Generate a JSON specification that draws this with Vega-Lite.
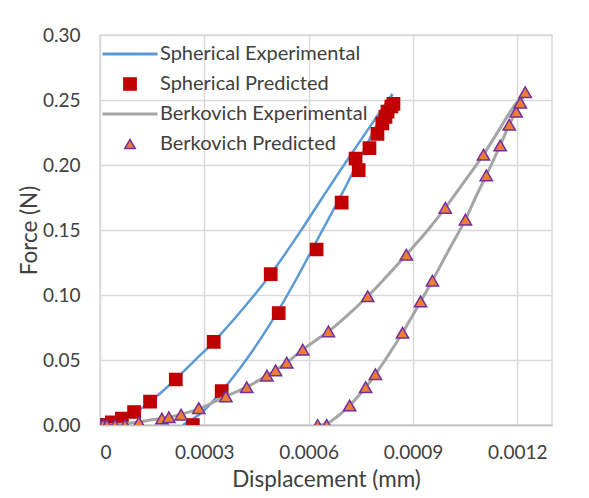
{
  "$schema": "https://vega.github.io/schema/vega-lite/v6.json",
  "autosize": "none",
  "width": 452,
  "height": 390,
  "padding": {"left": 100, "top": 35, "right": 37, "bottom": 73},
  "background": "white",
  "config": {
    "font": "Lato",
    "view": {"stroke": "#D9D9D9", "strokeWidth": 1.5},
    "axis": {
      "labelFont": "Lato",
      "labelFontSize": 19,
      "labelColor": "#404040",
      "titleFont": "Lato",
      "titleFontSize": 22.5,
      "titleFontWeight": "normal",
      "titleColor": "#404040",
      "gridColor": "#D9D9D9",
      "gridWidth": 1.5,
      "ticks": false,
      "tickSize": 0
    },
    "legend": {
      "labelFont": "Lato",
      "labelFontSize": 20,
      "labelColor": "#404040",
      "labelLimit": 0
    }
  },
  "data": {
    "values": [
      {"series": "Spherical Experimental", "seg": "SL", "i": 0, "x": 0, "y": 0},
      {"series": "Spherical Experimental", "seg": "SL", "i": 1, "x": 0.00003, "y": 0.0015},
      {"series": "Spherical Experimental", "seg": "SL", "i": 2, "x": 0.00006, "y": 0.004},
      {"series": "Spherical Experimental", "seg": "SL", "i": 3, "x": 0.0001, "y": 0.009},
      {"series": "Spherical Experimental", "seg": "SL", "i": 4, "x": 0.000144, "y": 0.018},
      {"series": "Spherical Experimental", "seg": "SL", "i": 5, "x": 0.00018, "y": 0.026},
      {"series": "Spherical Experimental", "seg": "SL", "i": 6, "x": 0.00022, "y": 0.036},
      {"series": "Spherical Experimental", "seg": "SL", "i": 7, "x": 0.00027, "y": 0.049},
      {"series": "Spherical Experimental", "seg": "SL", "i": 8, "x": 0.000327, "y": 0.064},
      {"series": "Spherical Experimental", "seg": "SL", "i": 9, "x": 0.00041, "y": 0.089},
      {"series": "Spherical Experimental", "seg": "SL", "i": 10, "x": 0.000491, "y": 0.116},
      {"series": "Spherical Experimental", "seg": "SL", "i": 11, "x": 0.000574, "y": 0.148},
      {"series": "Spherical Experimental", "seg": "SL", "i": 12, "x": 0.00063, "y": 0.171},
      {"series": "Spherical Experimental", "seg": "SL", "i": 13, "x": 0.000689, "y": 0.195},
      {"series": "Spherical Experimental", "seg": "SL", "i": 14, "x": 0.00077, "y": 0.227},
      {"series": "Spherical Experimental", "seg": "SL", "i": 15, "x": 0.000841, "y": 0.2546},
      {"series": "Spherical Experimental", "seg": "SU", "i": 0, "x": 0.000841, "y": 0.2546},
      {"series": "Spherical Experimental", "seg": "SU", "i": 1, "x": 0.00077, "y": 0.217},
      {"series": "Spherical Experimental", "seg": "SU", "i": 2, "x": 0.0007, "y": 0.18},
      {"series": "Spherical Experimental", "seg": "SU", "i": 3, "x": 0.00063, "y": 0.145},
      {"series": "Spherical Experimental", "seg": "SU", "i": 4, "x": 0.00056, "y": 0.11},
      {"series": "Spherical Experimental", "seg": "SU", "i": 5, "x": 0.00049, "y": 0.078},
      {"series": "Spherical Experimental", "seg": "SU", "i": 6, "x": 0.00042, "y": 0.05},
      {"series": "Spherical Experimental", "seg": "SU", "i": 7, "x": 0.00035, "y": 0.026},
      {"series": "Spherical Experimental", "seg": "SU", "i": 8, "x": 0.00029, "y": 0.009},
      {"series": "Spherical Experimental", "seg": "SU", "i": 9, "x": 0.000238, "y": 0},

      {"series": "Spherical Predicted", "seg": "SP", "i": 0, "x": 0, "y": 0},
      {"series": "Spherical Predicted", "seg": "SP", "i": 1, "x": 0.000014, "y": 0},
      {"series": "Spherical Predicted", "seg": "SP", "i": 2, "x": 0.000034, "y": 0.002},
      {"series": "Spherical Predicted", "seg": "SP", "i": 3, "x": 0.000063, "y": 0.005},
      {"series": "Spherical Predicted", "seg": "SP", "i": 4, "x": 0.000098, "y": 0.01},
      {"series": "Spherical Predicted", "seg": "SP", "i": 5, "x": 0.000144, "y": 0.018},
      {"series": "Spherical Predicted", "seg": "SP", "i": 6, "x": 0.000218, "y": 0.035},
      {"series": "Spherical Predicted", "seg": "SP", "i": 7, "x": 0.000327, "y": 0.064},
      {"series": "Spherical Predicted", "seg": "SP", "i": 8, "x": 0.000491, "y": 0.116},
      {"series": "Spherical Predicted", "seg": "SP", "i": 9, "x": 0.000267, "y": 0},
      {"series": "Spherical Predicted", "seg": "SP", "i": 10, "x": 0.00035, "y": 0.026},
      {"series": "Spherical Predicted", "seg": "SP", "i": 11, "x": 0.000514, "y": 0.086},
      {"series": "Spherical Predicted", "seg": "SP", "i": 12, "x": 0.000623, "y": 0.135},
      {"series": "Spherical Predicted", "seg": "SP", "i": 13, "x": 0.000695, "y": 0.171},
      {"series": "Spherical Predicted", "seg": "SP", "i": 14, "x": 0.000744, "y": 0.196},
      {"series": "Spherical Predicted", "seg": "SP", "i": 15, "x": 0.000735, "y": 0.205},
      {"series": "Spherical Predicted", "seg": "SP", "i": 16, "x": 0.000775, "y": 0.213},
      {"series": "Spherical Predicted", "seg": "SP", "i": 17, "x": 0.000798, "y": 0.224},
      {"series": "Spherical Predicted", "seg": "SP", "i": 18, "x": 0.000812, "y": 0.232},
      {"series": "Spherical Predicted", "seg": "SP", "i": 19, "x": 0.000821, "y": 0.237},
      {"series": "Spherical Predicted", "seg": "SP", "i": 20, "x": 0.000827, "y": 0.241},
      {"series": "Spherical Predicted", "seg": "SP", "i": 21, "x": 0.000838, "y": 0.245},
      {"series": "Spherical Predicted", "seg": "SP", "i": 22, "x": 0.000844, "y": 0.247},

      {"series": "Berkovich Experimental", "seg": "BL", "i": 0, "x": 0, "y": 0},
      {"series": "Berkovich Experimental", "seg": "BL", "i": 1, "x": 0.00005, "y": 0.0005},
      {"series": "Berkovich Experimental", "seg": "BL", "i": 2, "x": 0.0001, "y": 0.002},
      {"series": "Berkovich Experimental", "seg": "BL", "i": 3, "x": 0.00015, "y": 0.004},
      {"series": "Berkovich Experimental", "seg": "BL", "i": 4, "x": 0.0002, "y": 0.006},
      {"series": "Berkovich Experimental", "seg": "BL", "i": 5, "x": 0.00025, "y": 0.0095},
      {"series": "Berkovich Experimental", "seg": "BL", "i": 6, "x": 0.00029, "y": 0.013},
      {"series": "Berkovich Experimental", "seg": "BL", "i": 7, "x": 0.00033, "y": 0.018},
      {"series": "Berkovich Experimental", "seg": "BL", "i": 8, "x": 0.000362, "y": 0.022},
      {"series": "Berkovich Experimental", "seg": "BL", "i": 9, "x": 0.00042, "y": 0.029},
      {"series": "Berkovich Experimental", "seg": "BL", "i": 10, "x": 0.00048, "y": 0.038},
      {"series": "Berkovich Experimental", "seg": "BL", "i": 11, "x": 0.000537, "y": 0.048},
      {"series": "Berkovich Experimental", "seg": "BL", "i": 12, "x": 0.000583, "y": 0.058},
      {"series": "Berkovich Experimental", "seg": "BL", "i": 13, "x": 0.00062, "y": 0.065},
      {"series": "Berkovich Experimental", "seg": "BL", "i": 14, "x": 0.000657, "y": 0.072},
      {"series": "Berkovich Experimental", "seg": "BL", "i": 15, "x": 0.00071, "y": 0.084},
      {"series": "Berkovich Experimental", "seg": "BL", "i": 16, "x": 0.00077, "y": 0.099},
      {"series": "Berkovich Experimental", "seg": "BL", "i": 17, "x": 0.00082, "y": 0.113},
      {"series": "Berkovich Experimental", "seg": "BL", "i": 18, "x": 0.000881, "y": 0.131},
      {"series": "Berkovich Experimental", "seg": "BL", "i": 19, "x": 0.00094, "y": 0.149},
      {"series": "Berkovich Experimental", "seg": "BL", "i": 20, "x": 0.000993, "y": 0.167},
      {"series": "Berkovich Experimental", "seg": "BL", "i": 21, "x": 0.00105, "y": 0.188},
      {"series": "Berkovich Experimental", "seg": "BL", "i": 22, "x": 0.001103, "y": 0.208},
      {"series": "Berkovich Experimental", "seg": "BL", "i": 23, "x": 0.00115, "y": 0.228},
      {"series": "Berkovich Experimental", "seg": "BL", "i": 24, "x": 0.00119, "y": 0.245},
      {"series": "Berkovich Experimental", "seg": "BL", "i": 25, "x": 0.001223, "y": 0.256},
      {"series": "Berkovich Experimental", "seg": "BU", "i": 0, "x": 0.001223, "y": 0.256},
      {"series": "Berkovich Experimental", "seg": "BU", "i": 1, "x": 0.001209, "y": 0.248},
      {"series": "Berkovich Experimental", "seg": "BU", "i": 2, "x": 0.001197, "y": 0.241},
      {"series": "Berkovich Experimental", "seg": "BU", "i": 3, "x": 0.001177, "y": 0.231},
      {"series": "Berkovich Experimental", "seg": "BU", "i": 4, "x": 0.001151, "y": 0.215},
      {"series": "Berkovich Experimental", "seg": "BU", "i": 5, "x": 0.001111, "y": 0.192},
      {"series": "Berkovich Experimental", "seg": "BU", "i": 6, "x": 0.00108, "y": 0.175},
      {"series": "Berkovich Experimental", "seg": "BU", "i": 7, "x": 0.001051, "y": 0.158},
      {"series": "Berkovich Experimental", "seg": "BU", "i": 8, "x": 0.001, "y": 0.133},
      {"series": "Berkovich Experimental", "seg": "BU", "i": 9, "x": 0.000956, "y": 0.111},
      {"series": "Berkovich Experimental", "seg": "BU", "i": 10, "x": 0.000922, "y": 0.095},
      {"series": "Berkovich Experimental", "seg": "BU", "i": 11, "x": 0.00087, "y": 0.071},
      {"series": "Berkovich Experimental", "seg": "BU", "i": 12, "x": 0.00083, "y": 0.054},
      {"series": "Berkovich Experimental", "seg": "BU", "i": 13, "x": 0.000792, "y": 0.039},
      {"series": "Berkovich Experimental", "seg": "BU", "i": 14, "x": 0.000764, "y": 0.029},
      {"series": "Berkovich Experimental", "seg": "BU", "i": 15, "x": 0.000718, "y": 0.015},
      {"series": "Berkovich Experimental", "seg": "BU", "i": 16, "x": 0.00068, "y": 0.006},
      {"series": "Berkovich Experimental", "seg": "BU", "i": 17, "x": 0.000652, "y": 0.001},
      {"series": "Berkovich Experimental", "seg": "BU", "i": 18, "x": 0.00062, "y": 0},

      {"series": "Berkovich Predicted", "seg": "BP", "i": 0, "x": 0, "y": 0},
      {"series": "Berkovich Predicted", "seg": "BP", "i": 1, "x": 0.0000086, "y": 0},
      {"series": "Berkovich Predicted", "seg": "BP", "i": 2, "x": 0.00002, "y": 0},
      {"series": "Berkovich Predicted", "seg": "BP", "i": 3, "x": 0.000043, "y": 0},
      {"series": "Berkovich Predicted", "seg": "BP", "i": 4, "x": 0.000072, "y": 0},
      {"series": "Berkovich Predicted", "seg": "BP", "i": 5, "x": 0.000112, "y": 0.002},
      {"series": "Berkovich Predicted", "seg": "BP", "i": 6, "x": 0.000178, "y": 0.005},
      {"series": "Berkovich Predicted", "seg": "BP", "i": 7, "x": 0.000198, "y": 0.006},
      {"series": "Berkovich Predicted", "seg": "BP", "i": 8, "x": 0.000233, "y": 0.008},
      {"series": "Berkovich Predicted", "seg": "BP", "i": 9, "x": 0.000284, "y": 0.013},
      {"series": "Berkovich Predicted", "seg": "BP", "i": 10, "x": 0.000362, "y": 0.022},
      {"series": "Berkovich Predicted", "seg": "BP", "i": 11, "x": 0.000422, "y": 0.029},
      {"series": "Berkovich Predicted", "seg": "BP", "i": 12, "x": 0.00048, "y": 0.038},
      {"series": "Berkovich Predicted", "seg": "BP", "i": 13, "x": 0.000505, "y": 0.042},
      {"series": "Berkovich Predicted", "seg": "BP", "i": 14, "x": 0.000537, "y": 0.048},
      {"series": "Berkovich Predicted", "seg": "BP", "i": 15, "x": 0.000583, "y": 0.058},
      {"series": "Berkovich Predicted", "seg": "BP", "i": 16, "x": 0.000657, "y": 0.072},
      {"series": "Berkovich Predicted", "seg": "BP", "i": 17, "x": 0.00077, "y": 0.099},
      {"series": "Berkovich Predicted", "seg": "BP", "i": 18, "x": 0.000881, "y": 0.131},
      {"series": "Berkovich Predicted", "seg": "BP", "i": 19, "x": 0.000993, "y": 0.167},
      {"series": "Berkovich Predicted", "seg": "BP", "i": 20, "x": 0.001103, "y": 0.208},
      {"series": "Berkovich Predicted", "seg": "BP", "i": 21, "x": 0.001177, "y": 0.231},
      {"series": "Berkovich Predicted", "seg": "BP", "i": 22, "x": 0.001197, "y": 0.241},
      {"series": "Berkovich Predicted", "seg": "BP", "i": 23, "x": 0.001209, "y": 0.248},
      {"series": "Berkovich Predicted", "seg": "BP", "i": 24, "x": 0.001223, "y": 0.256},
      {"series": "Berkovich Predicted", "seg": "BP", "i": 25, "x": 0.001151, "y": 0.215},
      {"series": "Berkovich Predicted", "seg": "BP", "i": 26, "x": 0.001111, "y": 0.192},
      {"series": "Berkovich Predicted", "seg": "BP", "i": 27, "x": 0.001051, "y": 0.158},
      {"series": "Berkovich Predicted", "seg": "BP", "i": 28, "x": 0.000956, "y": 0.111},
      {"series": "Berkovich Predicted", "seg": "BP", "i": 29, "x": 0.000922, "y": 0.095},
      {"series": "Berkovich Predicted", "seg": "BP", "i": 30, "x": 0.00087, "y": 0.071},
      {"series": "Berkovich Predicted", "seg": "BP", "i": 31, "x": 0.000792, "y": 0.039},
      {"series": "Berkovich Predicted", "seg": "BP", "i": 32, "x": 0.000764, "y": 0.029},
      {"series": "Berkovich Predicted", "seg": "BP", "i": 33, "x": 0.000718, "y": 0.015},
      {"series": "Berkovich Predicted", "seg": "BP", "i": 34, "x": 0.000652, "y": 0},
      {"series": "Berkovich Predicted", "seg": "BP", "i": 35, "x": 0.000626, "y": 0}
    ]
  },
  "encoding": {
    "x": {
      "field": "x", "type": "quantitative",
      "scale": {"domain": [0, 0.0013], "nice": false, "zero": false},
      "axis": {
        "title": "Displacement (mm)",
        "values": [0, 0.0003, 0.0006, 0.0009, 0.0012],
        "format": ".4~f",
        "labelPadding": 18,
        "titlePadding": 6,
        "domainColor": "#BFBFBF",
        "domainWidth": 1.5
      }
    },
    "y": {
      "field": "y", "type": "quantitative",
      "scale": {"domain": [0, 0.3], "nice": false},
      "axis": {
        "title": "Force (N)",
        "values": [0, 0.05, 0.1, 0.15, 0.2, 0.25, 0.3],
        "format": ".2f",
        "labelPadding": 20,
        "titlePadding": 1,
        "domain": false
      }
    }
  },
  "layer": [
    {
      "transform": [{"filter": "datum.series === 'Spherical Experimental'"}],
      "mark": {"type": "line", "strokeWidth": 2.5, "clip": true, "interpolate": "catmull-rom"},
      "encoding": {
        "stroke": {
          "field": "series", "type": "nominal",
          "scale": {
            "domain": ["Spherical Experimental", "Spherical Predicted", "Berkovich Experimental", "Berkovich Predicted"],
            "range": ["#5B9BD5", "#C00000", "#A5A5A5", "#7030A0"]
          },
          "legend": {
            "title": null,
            "orient": "none",
            "legendX": 0,
            "legendY": 9,
            "padding": 0,
            "symbolOffset": 20,
            "labelOffset": 20,
            "rowPadding": 10,
            "symbolStrokeWidth": 2.5,
            "encode": {
              "symbols": {
                "update": {
                  "size": {"signal": "(datum.value === 'Spherical Experimental' || datum.value === 'Berkovich Experimental') ? 3025 : (datum.value === 'Spherical Predicted' ? 150 : 110)"},
                  "strokeWidth": {"signal": "(datum.value === 'Spherical Experimental' || datum.value === 'Berkovich Experimental') ? 3 : 1.5"}
                }
              }
            }
          }
        },
        "detail": {"field": "seg"},
        "order": {"field": "i", "type": "quantitative"}
      }
    },
    {
      "transform": [{"filter": "datum.series === 'Spherical Predicted'"}],
      "mark": {"type": "point", "size": 150, "opacity": 1, "strokeWidth": 1.5, "clip": true},
      "encoding": {
        "stroke": {"field": "series", "type": "nominal"},
        "fill": {
          "field": "series", "type": "nominal",
          "scale": {
            "domain": ["Spherical Experimental", "Spherical Predicted", "Berkovich Experimental", "Berkovich Predicted"],
            "range": ["transparent", "#C00000", "transparent", "#ED7D31"]
          }
        },
        "shape": {
          "field": "series", "type": "nominal",
          "scale": {
            "domain": ["Spherical Experimental", "Spherical Predicted", "Berkovich Experimental", "Berkovich Predicted"],
            "range": ["stroke", "square", "stroke", "triangle-up"]
          }
        }
      }
    },
    {
      "transform": [{"filter": "datum.series === 'Berkovich Experimental'"}],
      "mark": {"type": "line", "strokeWidth": 3, "clip": true, "interpolate": "catmull-rom"},
      "encoding": {
        "stroke": {"field": "series", "type": "nominal"},
        "detail": {"field": "seg"},
        "order": {"field": "i", "type": "quantitative"}
      }
    },
    {
      "transform": [{"filter": "datum.series === 'Berkovich Predicted'"}],
      "mark": {"type": "point", "size": 150, "opacity": 1, "strokeWidth": 1.5, "clip": true},
      "encoding": {
        "stroke": {"field": "series", "type": "nominal"},
        "fill": {"field": "series", "type": "nominal"},
        "shape": {"field": "series", "type": "nominal"}
      }
    }
  ]
}
